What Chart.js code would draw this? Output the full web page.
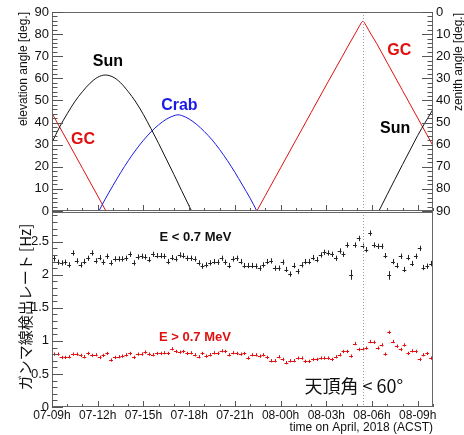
<!DOCTYPE html>
<html>
<head>
<meta charset="utf-8">
<script src="https://cdn.jsdelivr.net/npm/chart.js@4.4.1/dist/chart.umd.min.js"></script>
<style>
  body { margin: 0; background: #fff; }
  #wrap { position: relative; width: 464px; height: 435px; }
  canvas { position: absolute; left: 0; }
</style>
</head>
<body>
<div id="wrap">
  <canvas id="topChart" width="464" height="224" style="top:0"></canvas>
  <canvas id="rateChart" width="464" height="224" style="top:211px"></canvas>
</div>
<script>
// x axis = hours since 07-09h (ACST)
const xTickLabels = ['07-09h', '07-12h', '07-15h', '07-18h', '07-21h', '08-00h', '08-03h', '08-06h', '08-09h'];
const zenithCutHour = 20.4;

// elevation curves (hour, deg)
const sunAmT  = [0, 0.5, 1, 1.5, 2, 2.5, 3, 3.5, 4, 4.5, 5, 5.5, 6, 6.5, 7, 7.5, 8, 8.5, 9, 9.16];
const sunAmEl = [31, 38, 44, 49.5, 54, 57.8, 60.5, 61.5, 60.6, 58, 54, 49.3, 43.6, 37.2, 30.5, 23.5, 16.5, 9.3, 2.2, 0];
const sunPmT  = [21.45, 22, 22.5, 23, 23.5, 24, 24.5, 25];
const sunPmEl = [0, 7.5, 14.3, 21, 27.6, 34.2, 40.2, 46];
const crabT   = [3.08, 3.5, 4, 4.5, 5, 5.5, 6, 6.5, 7, 7.5, 8, 8.26, 8.5, 9, 9.5, 10, 10.5, 11, 11.5, 12, 12.5, 13, 13.44];
const crabEl  = [0, 5.5, 11.5, 17.3, 22.7, 27.6, 32, 35.8, 39, 41.5, 43.1, 43.5, 43.2, 41.6, 39.1, 35.9, 32.2, 27.8, 22.9, 17.5, 11.7, 5.8, 0];
const gcAmT   = [0, 1, 2, 3, 3.54];
const gcAmEl  = [44.2, 31.8, 19.3, 6.8, 0];
const gcPmT   = [13.44, 14, 15, 16, 17, 18, 19, 19.5, 20, 20.2, 20.4, 20.6, 20.8, 21.3, 22, 23, 24, 25];
const gcPmEl  = [0, 7, 19.5, 32, 44.5, 57, 69.3, 75.5, 81.5, 84, 85.8, 84, 81.5, 75.8, 67, 54.5, 42, 29.5];

// gamma rate [Hz], 15 min bins
const binWidth = 0.25;
const rateLow = [
  2.25, 2.19, 2.18, 2.19, 2.15, 2.33, 2.21, 2.15, 2.20, 2.25,
  2.33, 2.21, 2.26, 2.19, 2.28, 2.18, 2.24, 2.24, 2.24, 2.25,
  2.31, 2.18, 2.27, 2.28, 2.27, 2.23,
  2.31, 2.29, 2.29, 2.28, 2.20, 2.26, 2.24, 2.30, 2.29, 2.25,
  2.25, 2.24, 2.18, 2.13, 2.15, 2.18, 2.20, 2.19, 2.25, 2.19,
  2.14, 2.24, 2.25, 2.20,
  2.14, 2.14, 2.14, 2.13, 2.10, 2.15, 2.20, 2.21, 2.10, 2.10,
  2.19, 2.08, 2.01, 2.14, 2.05, 2.15, 2.20, 2.20, 2.26, 2.23,
  2.30, 2.34, 2.33, 2.31, 2.25, 2.36,
  2.31, 2.45, 2.00, 2.45, 2.55, 2.43, 2.38, 2.63, 2.45, 2.43,
  2.43, 2.29, 1.99, 2.20, 2.14, 2.28, 2.08, 2.26, 2.17, 2.28,
  2.40, 2.11, 2.13, 2.17
];
const rateHigh = [
  0.80, 0.80, 0.75, 0.75, 0.76, 0.80, 0.80, 0.78, 0.76, 0.81,
  0.78, 0.79, 0.75, 0.78, 0.81, 0.71, 0.75, 0.76, 0.77, 0.79,
  0.81, 0.75, 0.80, 0.80, 0.83, 0.80,
  0.79, 0.81, 0.81, 0.82, 0.81, 0.88, 0.84, 0.83, 0.84, 0.81,
  0.82, 0.79, 0.76, 0.81, 0.77, 0.79, 0.82, 0.81, 0.85, 0.84,
  0.79, 0.82, 0.81, 0.80,
  0.81, 0.74, 0.79, 0.79, 0.77, 0.79, 0.75, 0.70, 0.70, 0.76,
  0.72, 0.67, 0.70, 0.70, 0.74, 0.74, 0.69, 0.69, 0.72, 0.72,
  0.74, 0.74, 0.74, 0.72, 0.76, 0.79,
  0.84, 0.84, 0.77, 0.96, 0.87, 0.87, 0.89, 0.99, 0.98, 0.89,
  0.94, 0.80, 1.13, 0.99, 0.92, 0.87, 0.94, 0.81, 0.85, 0.84,
  0.72, 0.79, 0.81, 0.74
];
const errLow = 0.04;
const errHigh = 0.025;
const bigErrBins = [0, 78, 88];
const bigErrLow = [0.05, 0.075, 0.065];

const SANS = "'Liberation Sans', Arial, sans-serif";
const JP = "'Noto Sans CJK JP', sans-serif";
const RED = '#e01010';
const BLUE = '#1a1ae6';

function curve(T, E, color) {
  return {
    data: T.map((t, i) => ({ x: t, y: E[i] })),
    showLine: true, borderColor: color, borderWidth: 1,
    pointRadius: 0, cubicInterpolationMode: 'monotone', yAxisID: 'y'
  };
}

function rateSet(vals, errs, color) {
  return {
    data: vals.map((v, i) => ({ x: (i + 0.5) * binWidth, y: v, e: errs[i] })),
    showLine: false, pointRadius: 0, borderColor: color
  };
}

// fixed axis sizes so both panels line up
function fixW(w) {
  return s => { s.width = w; s.paddingTop = s.paddingBottom = s.paddingLeft = s.paddingRight = 0; };
}
function fixH(h) {
  return s => { s.height = h; s.paddingTop = s.paddingBottom = s.paddingLeft = s.paddingRight = 0; };
}

const noGrid = { display: false, drawTicks: false };

// frame, inward ticks, dotted line, error crosses and texts
const deco = {
  id: 'deco',
  afterDatasetsDraw(chart) {
    const { ctx, scales } = chart;
    const xs = scales.x, ys = scales.y;
    ctx.save();
    ctx.lineWidth = 1;
    chart.data.datasets.forEach(ds => {
      if (ds.showLine) return;
      ctx.strokeStyle = ds.borderColor;
      ctx.beginPath();
      ds.data.forEach(p => {
        const px = xs.getPixelForValue(p.x);
        const py = Math.round(ys.getPixelForValue(p.y)) + 0.5;
        ctx.moveTo(xs.getPixelForValue(p.x - binWidth / 2), py);
        ctx.lineTo(xs.getPixelForValue(p.x + binWidth / 2), py);
        const cx = Math.round(px) + 0.5;
        ctx.moveTo(cx, ys.getPixelForValue(p.y - p.e));
        ctx.lineTo(cx, ys.getPixelForValue(p.y + p.e));
      });
      ctx.stroke();
    });
    ctx.restore();
  },
  afterDraw(chart, args, o) {
    const { ctx, chartArea: a, scales } = chart;
    ctx.save();
    ctx.lineWidth = 1;

    // dotted line at zenith cut
    const xd = Math.round(scales.x.getPixelForValue(zenithCutHour)) + 0.5;
    ctx.strokeStyle = '#999';
    ctx.setLineDash([1, 2]);
    ctx.beginPath();
    ctx.moveTo(xd, a.top);
    ctx.lineTo(xd, a.bottom);
    ctx.stroke();
    ctx.setLineDash([]);

    // frame
    ctx.strokeStyle = '#666';
    ctx.strokeRect(a.left + 0.5, a.top + 0.5, a.right - a.left - 1, a.bottom - a.top - 1);

    // ticks
    ctx.strokeStyle = '#555';
    ctx.beginPath();
    o.ticks.forEach(t => {
      const sc = scales[t.scale];
      const n = Math.round((sc.max - sc.min) / t.minor);
      for (let i = 0; i <= n; i++) {
        const v = sc.min + i * t.minor;
        const isMajor = Math.abs(v / t.major - Math.round(v / t.major)) < 1e-6;
        const len = isMajor ? t.len : t.len / 2;
        const p = Math.round(sc.getPixelForValue(v)) + 0.5;
        if (t.edge === 'left') { ctx.moveTo(a.left, p); ctx.lineTo(a.left + len, p); }
        if (t.edge === 'right') { ctx.moveTo(a.right, p); ctx.lineTo(a.right - len, p); }
        if (t.edge === 'bottom') { ctx.moveTo(p, a.bottom); ctx.lineTo(p, a.bottom - len); }
      }
    });
    ctx.stroke();

    // labels placed in data coordinates
    ctx.textAlign = 'center';
    ctx.textBaseline = 'middle';
    o.labels.forEach(l => {
      ctx.font = l.font;
      ctx.fillStyle = l.color;
      ctx.fillText(l.text, scales.x.getPixelForValue(l.h), scales.y.getPixelForValue(l.v));
    });

    // axis titles
    o.titles.forEach(t => {
      ctx.save();
      ctx.font = t.font;
      ctx.fillStyle = '#111';
      ctx.textAlign = t.align;
      ctx.translate(t.x, t.y);
      if (t.rot) ctx.rotate(t.rot);
      ctx.fillText(t.text, 0, 0);
      ctx.restore();
    });
    ctx.restore();
  }
};

const tickFont = { family: SANS, size: 13 };

new Chart(document.getElementById('topChart'), {
  type: 'scatter',
  data: {
    datasets: [
      curve(sunAmT, sunAmEl, '#111'),
      curve(sunPmT, sunPmEl, '#111'),
      curve(crabT, crabEl, BLUE),
      curve(gcAmT, gcAmEl, RED),
      curve(gcPmT, gcPmEl, RED)
    ]
  },
  options: {
    responsive: false,
    animation: false,
    devicePixelRatio: 1,
    layout: { padding: { top: 12, bottom: 13 } },
    plugins: {
      legend: { display: false },
      tooltip: { enabled: false },
      deco: {
        ticks: [
          { scale: 'y', edge: 'left', major: 10, minor: 2, len: 11 },
          { scale: 'yZen', edge: 'right', major: 10, minor: 2, len: 11 },
          { scale: 'x', edge: 'bottom', major: 3, minor: 1, len: 6 }
        ],
        labels: [
          { text: 'Sun', h: 3.67, v: 67.4, color: '#000', font: 'bold 16px ' + SANS },
          { text: 'Crab', h: 8.36, v: 47.5, color: BLUE, font: 'bold 16px ' + SANS },
          { text: 'GC', h: 2.03, v: 32.3, color: RED, font: 'bold 16px ' + SANS },
          { text: 'GC', h: 22.79, v: 72.4, color: RED, font: 'bold 16px ' + SANS },
          { text: 'Sun', h: 22.52, v: 37.3, color: '#000', font: 'bold 16px ' + SANS }
        ],
        titles: [
          { text: 'elevation angle [deg.]', x: 24, y: 12, rot: -Math.PI / 2, align: 'right', font: '12px ' + SANS },
          { text: 'zenith angle [deg.]', x: 459, y: 13, rot: -Math.PI / 2, align: 'right', font: '12px ' + SANS }
        ]
      }
    },
    scales: {
      x: { type: 'linear', min: 0, max: 25, display: false },
      y: {
        min: 0, max: 90, position: 'left',
        grid: noGrid, border: { display: false },
        ticks: { stepSize: 10, padding: 3, font: tickFont, color: '#111' },
        afterFit: fixW(52)
      },
      yZen: {
        min: 0, max: 90, reverse: true, position: 'right',
        grid: noGrid, border: { display: false },
        ticks: { stepSize: 10, padding: 3, font: tickFont, color: '#111' },
        afterFit: fixW(31)
      }
    }
  },
  plugins: [deco]
});

const lowErrs = rateLow.map((v, i) => bigErrBins.includes(i) ? bigErrLow[bigErrBins.indexOf(i)] : errLow);
const highErrs = rateHigh.map(() => errHigh);

new Chart(document.getElementById('rateChart'), {
  type: 'scatter',
  data: {
    datasets: [
      rateSet(rateLow, lowErrs, '#222'),
      rateSet(rateHigh, highErrs, RED)
    ]
  },
  options: {
    responsive: false,
    animation: false,
    devicePixelRatio: 1,
    layout: { padding: { top: 1, right: 31 } },
    plugins: {
      legend: { display: false },
      tooltip: { enabled: false },
      deco: {
        ticks: [
          { scale: 'y', edge: 'left', major: 0.5, minor: 0.1, len: 11 },
          { scale: 'x', edge: 'bottom', major: 3, minor: 1, len: 6 }
        ],
        labels: [
          { text: 'E < 0.7 MeV', h: 9.41, v: 2.56, color: '#111', font: 'bold 13px ' + SANS },
          { text: 'E > 0.7 MeV', h: 9.38, v: 1.05, color: RED, font: 'bold 13px ' + SANS },
          { text: '天頂角 < 60°', h: 19.8, v: 0.31, color: '#111', font: '18px ' + JP }
        ],
        titles: [
          { text: 'ガンマ線検出レート [Hz]', x: 25, y: 96, rot: -Math.PI / 2, align: 'center', font: '15px ' + JP },
          { text: 'time on April, 2018 (ACST)', x: 433, y: 217, rot: 0, align: 'right', font: '12px ' + SANS }
        ]
      }
    },
    scales: {
      x: {
        type: 'linear', min: 0, max: 25, position: 'bottom',
        grid: noGrid, border: { display: false },
        ticks: {
          stepSize: 3, includeBounds: false, autoSkip: false, maxRotation: 0, minRotation: 0,
          padding: 1, font: { family: SANS, size: 12 }, color: '#111',
          callback: v => xTickLabels[Math.round(v / 3)]
        },
        afterFit: fixH(28)
      },
      y: {
        min: 0, max: 2.95, position: 'left',
        grid: noGrid, border: { display: false },
        ticks: {
          stepSize: 0.5, includeBounds: false, padding: 3, font: tickFont, color: '#111',
          callback: v => String(+v.toFixed(2))
        },
        afterFit: fixW(52)
      }
    }
  },
  plugins: [deco]
});
</script>
</body>
</html>
